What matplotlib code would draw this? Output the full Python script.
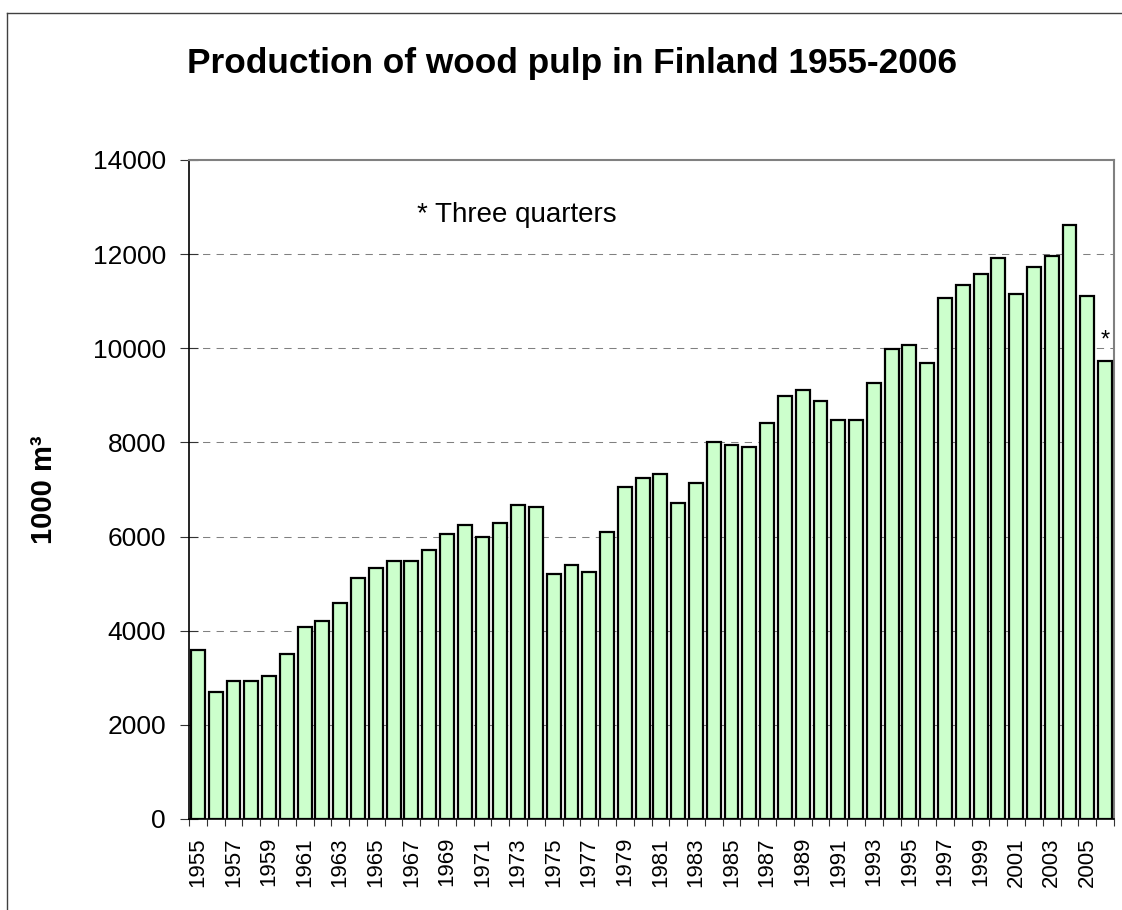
import matplotlib
matplotlib.use("Agg")
import matplotlib.pyplot as plt
from matplotlib.lines import Line2D
from matplotlib.ticker import FixedLocator, NullFormatter

# Annual production of wood pulp in Finland, 1000 m3 (2006: three quarters only)
years = list(range(1955, 2007))
production = [
    3600, 2690, 2940, 2940, 3030, 3500, 4070, 4210, 4590, 5110,
    5340, 5490, 5490, 5720, 6060, 6240, 6000, 6290, 6670, 6620,
    5200, 5390, 5250, 6100, 7050, 7240, 7330, 6720, 7140, 8000,
    7950, 7900, 8420, 8990, 9120, 8890, 8470, 8470, 9270, 9980,
    10070, 9690, 11060, 11350, 11580, 11920, 11160, 11730, 11960, 12620,
    11110, 9740,
]
y_ticks = [0, 2000, 4000, 6000, 8000, 10000, 12000, 14000]
x_labels = [str(y) for y in years[::2]]

plt.rcParams["font.family"] = ["Liberation Sans", "DejaVu Sans"]

fig = plt.figure(figsize=(11.22, 9.10), dpi=100)
ax = fig.add_axes([189 / 1122, 91 / 910, 925 / 1122, 659 / 910])

idx = list(range(len(years)))
ax.bar(idx, production, width=0.78, color="#CCFFCC", edgecolor="black",
       linewidth=1.6, zorder=3)

ax.set_xlim(-0.5, len(years) - 0.5)
ax.set_ylim(0, 14000)

# horizontal dashed grid
for v in y_ticks[1:-1]:
    ax.axhline(v, color="#808080", linewidth=0.75, linestyle=(0, (7, 6)), zorder=1)

ax.set_yticks(y_ticks)
ax.set_yticklabels([str(v) for v in y_ticks], fontsize=19)
ax.tick_params(axis="y", direction="inout", length=13, width=0.8,
               color="#333333", pad=10)

ax.xaxis.set_major_locator(FixedLocator(idx[::2]))
ax.set_xticklabels(x_labels, rotation=90, fontsize=16)
ax.tick_params(axis="x", which="major", length=0, pad=13)
ax.xaxis.set_minor_locator(FixedLocator([i - 0.5 for i in range(len(years) + 1)]))
ax.xaxis.set_minor_formatter(NullFormatter())
ax.tick_params(axis="x", which="minor", direction="out", length=5, width=0.8,
               color="#333333")

for side in ("left", "bottom"):
    ax.spines[side].set_color("black")
    ax.spines[side].set_linewidth(1.2)
for side in ("top", "right"):
    ax.spines[side].set_color("#808080")
    ax.spines[side].set_linewidth(1.5)

ax.set_ylabel("1000 m³", fontsize=21, fontweight="bold")
ax.yaxis.set_label_coords(-0.142, 0.5)

ax.text(12.3, 12683, "* Three quarters", fontsize=20, ha="left", va="baseline")
ax.text(idx[-1], production[-1] + 200, "*", fontsize=17, ha="center", va="bottom")

fig.text(572 / 1122, 1 - 64 / 910, "Production of wood pulp in Finland 1955-2006",
         fontsize=25.4, fontweight="bold", ha="center", va="center")

# outer chart frame
fig.add_artist(Line2D([7 / 1122, 7 / 1122], [0, 1 - 13 / 910],
                      transform=fig.transFigure, color="#404040", linewidth=1))
fig.add_artist(Line2D([7 / 1122, 1], [1 - 13 / 910, 1 - 13 / 910],
                      transform=fig.transFigure, color="#404040", linewidth=1))

fig.savefig("out.png", dpi=100, facecolor="white")
